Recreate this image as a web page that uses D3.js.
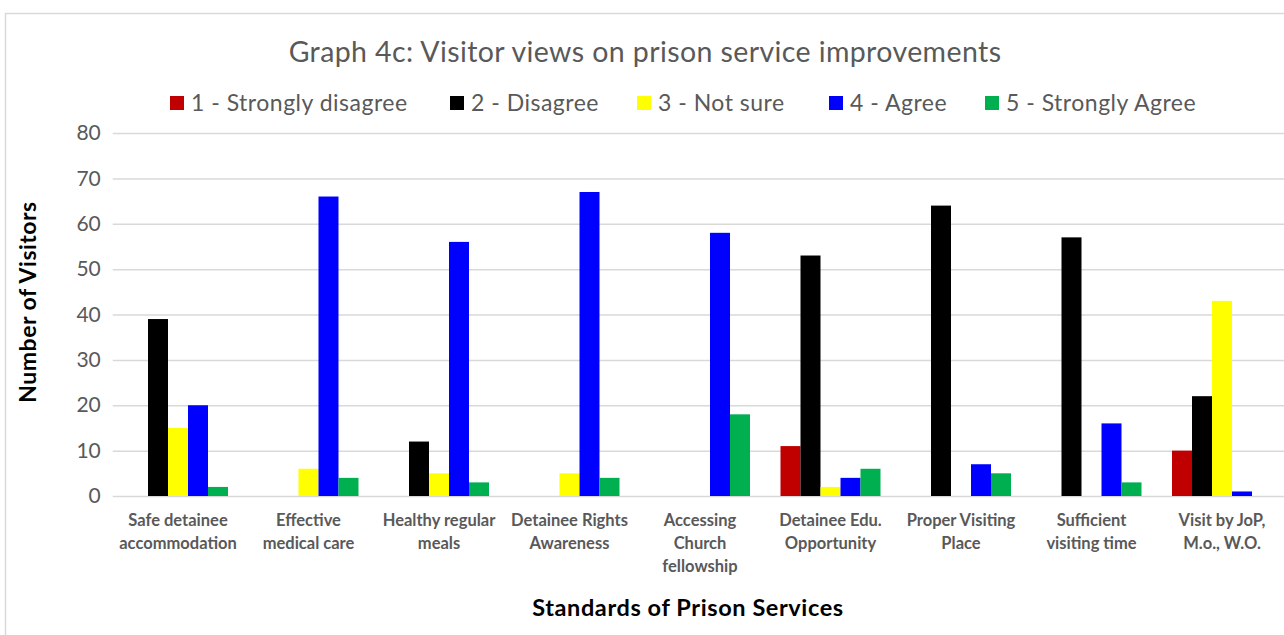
<!DOCTYPE html>
<html>
<head>
<meta charset="utf-8">
<script src="https://cdn.jsdelivr.net/npm/d3@7"></script>
<style>
  html, body { margin: 0; padding: 0; background: #fff; }
  svg { display: block; font-family: Lato, "Open Sans", sans-serif; }
</style>
</head>
<body>
<svg id="chart" width="1284" height="635"></svg>
<script>
// Survey categories (standards of prison services), one line per wrapped label row
const categories = [
  ["Safe detainee", "accommodation"],
  ["Effective", "medical care"],
  ["Healthy regular", "meals"],
  ["Detainee Rights", "Awareness"],
  ["Accessing", "Church", "fellowship"],
  ["Detainee Edu.", "Opportunity"],
  ["Proper Visiting", "Place"],
  ["Sufficient", "visiting time"],
  ["Visit by JoP,", "M.o., W.O."]
];

const seriesNames = ["1 - Strongly disagree", "2 - Disagree", "3 - Not sure", "4 - Agree", "5 - Strongly Agree"];
const seriesColors = ["#c00000", "#000000", "#ffff00", "#0000ff", "#00b050"];

// Number of visitors per response, by category
const stronglyDisagree = [0, 0, 0, 0, 0, 11, 0, 0, 10];
const disagree         = [39, 0, 12, 0, 0, 53, 64, 57, 22];
const notSure          = [15, 6, 5, 5, 0, 2, 0, 0, 43];
const agree            = [20, 66, 56, 67, 58, 4, 7, 16, 1];
const stronglyAgree    = [2, 4, 3, 4, 18, 6, 5, 3, 0];

const yTicks = [0, 10, 20, 30, 40, 50, 60, 70, 80];

const seriesValues = [stronglyDisagree, disagree, notSure, agree, stronglyAgree];

const svg = d3.select("#chart");
const textGrey = "#595959";

// chart frame
svg.append("rect")
  .attr("x", 5.5).attr("y", 13.5)
  .attr("width", 1300).attr("height", 700)
  .attr("fill", "#fff").attr("stroke", "#d9d9d9").attr("stroke-width", 1.5);

const plot = { left: 112.75, right: 1287.25, top: 133, bottom: 496 };

const x = d3.scaleBand()
  .domain(d3.range(categories.length))
  .range([plot.left, plot.right])
  .padding(0);

const groupWidth = 100;
const xs = d3.scaleBand()
  .domain(d3.range(seriesNames.length))
  .range([0, groupWidth])
  .padding(0);

const y = d3.scaleLinear().domain([0, 80]).range([plot.bottom, plot.top]);

// gridlines
const yAxis = d3.axisLeft(y).tickValues(yTicks).tickSize(-(plot.right - plot.left)).tickPadding(12);
const gy = svg.append("g").attr("transform", `translate(${plot.left},0)`).call(yAxis);
gy.select(".domain").remove();
gy.selectAll(".tick line").attr("stroke", "#d9d9d9").attr("stroke-width", 1.5);
gy.selectAll(".tick text")
  .attr("fill", textGrey).attr("font-size", 21).attr("font-family", "Lato, sans-serif");

// bars
const groups = svg.append("g").selectAll("g")
  .data(categories.map((c, i) => i))
  .join("g")
  .attr("transform", i => `translate(${x(i) + x.bandwidth() / 2 - groupWidth / 2},0)`);

groups.selectAll("rect")
  .data(i => seriesValues.map((vals, s) => ({ s, v: vals[i] })))
  .join("rect")
  .filter(d => d.v > 0)
  .attr("x", d => xs(d.s))
  .attr("width", xs.bandwidth())
  .attr("y", d => y(d.v))
  .attr("height", d => y(0) - y(d.v))
  .attr("fill", d => seriesColors[d.s]);

// category labels
const labels = svg.append("g").selectAll("text")
  .data(categories)
  .join("text")
  .attr("text-anchor", "middle")
  .attr("font-weight", "bold")
  .attr("font-size", 16.5)
  .attr("fill", textGrey)
  .attr("transform", (d, i) => `translate(${x(i) + x.bandwidth() / 2},526)`);
labels.selectAll("tspan")
  .data(d => d)
  .join("tspan")
  .attr("x", 0)
  .attr("dy", (d, j) => j === 0 ? 0 : 23)
  .text(d => d);

// title
svg.append("text")
  .attr("x", 645).attr("y", 62)
  .attr("text-anchor", "middle")
  .attr("font-size", 28.5)
  .attr("letter-spacing", 0.4)
  .attr("fill", textGrey)
  .text("Graph 4c: Visitor views on prison service improvements");

// legend
const legendX = [170, 450, 637, 829, 985];
const legend = svg.append("g").selectAll("g")
  .data(seriesNames)
  .join("g")
  .attr("transform", (d, i) => `translate(${legendX[i]},103)`);
legend.append("rect")
  .attr("x", 0).attr("y", -7).attr("width", 14).attr("height", 14)
  .attr("fill", (d, i) => seriesColors[i]);
legend.append("text")
  .attr("x", 21).attr("y", 8)
  .attr("font-size", 23)
  .attr("letter-spacing", 0.5)
  .attr("fill", textGrey)
  .text(d => d);

// axis titles
svg.append("text")
  .attr("transform", "translate(36,302) rotate(-90)")
  .attr("text-anchor", "middle")
  .attr("font-weight", "bold")
  .attr("font-size", 23)
  .attr("letter-spacing", 0.5)
  .attr("fill", "#000")
  .text("Number of Visitors");

svg.append("text")
  .attr("x", 688).attr("y", 616)
  .attr("text-anchor", "middle")
  .attr("font-weight", "bold")
  .attr("font-size", 23.5)
  .attr("letter-spacing", 0.6)
  .attr("fill", "#000")
  .text("Standards of Prison Services");
</script>
</body>
</html>
